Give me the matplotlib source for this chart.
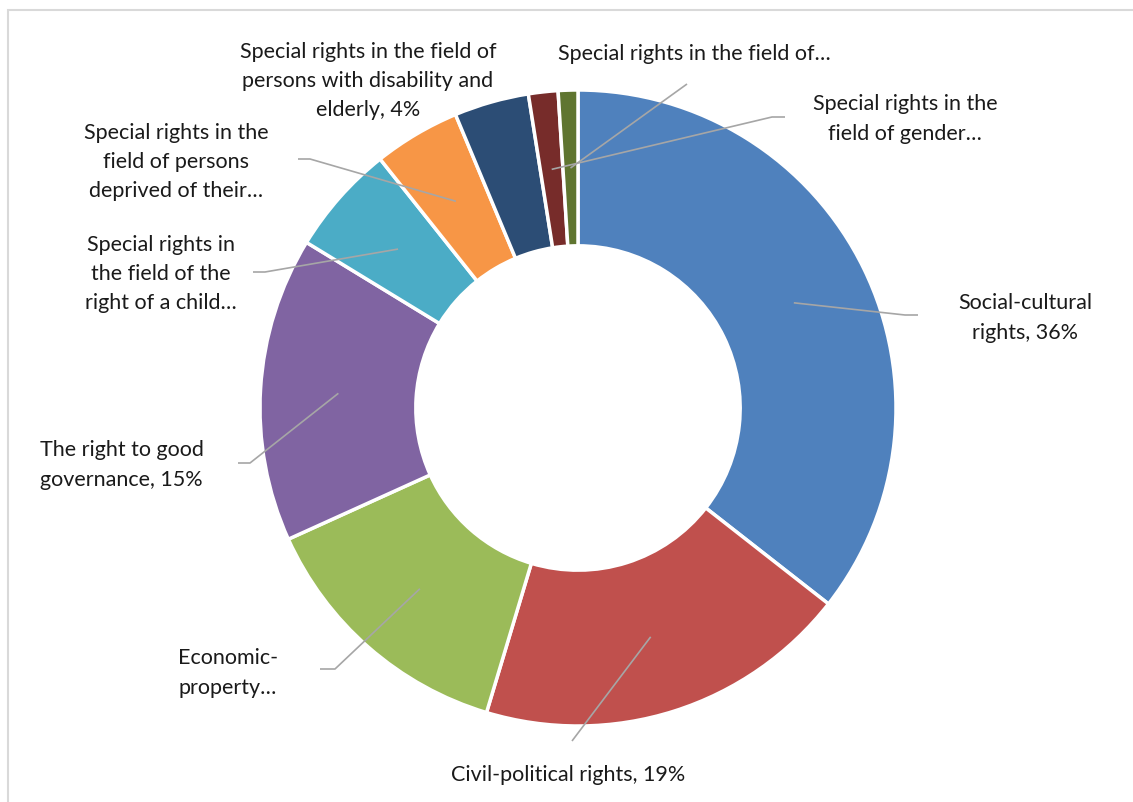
import matplotlib
matplotlib.use("Agg")
import matplotlib.pyplot as plt
import numpy as np
from matplotlib.patches import Rectangle

# ---- data ----
categories = [
    "Social-cultural rights",
    "Civil-political rights",
    "Economic-property rights",
    "The right to good governance",
    "Special rights in the field of the right of a child",
    "Special rights in the field of persons deprived of their liberty",
    "Special rights in the field of persons with disability and elderly",
    "Special rights in the field of gender equality",
    "Special rights in the field of national minorities",
]
values = [35.6, 19.1, 13.6, 15.5, 5.6, 4.4, 3.8, 1.5, 1.0]
label_texts = [
    "Social-cultural\nrights, 36%",
    "Civil-political rights, 19%",
    "Economic-\nproperty\u2026",
    "The right to good\ngovernance, 15%",
    "Special rights in\nthe field of the\nright of a child\u2026",
    "Special rights in the\nfield of persons\ndeprived of their\u2026",
    "Special rights in the field of\npersons with disability and\nelderly, 4%",
    "Special rights in the\nfield of gender\u2026",
    "Special rights in the field of\u2026",
]
colors = ["#4F81BD", "#C0504D", "#9BBB59", "#8064A2", "#4BACC6",
          "#F79646", "#2C4D75", "#772C2A", "#5F7530"]

# ---- layout (pixel positions) ----
W, H = 1133, 803
CX, CY, R = 578, 409, 318

def px(x, y):
    return ((x - CX) / R, (CY - y) / R)

label_pos = [(1025, 318), (568, 775), (229, 673), (123, 465), (161, 274),
             (176, 162), (368, 81), (905, 119), (694, 54)]
label_ha = ["center", "center", "left", "left", "center", "center",
            "center", "center", "center"]
label_left = {2: 178, 3: 40}
leaders = [((905, 316), (918, 316)),
           ((572, 742), (572, 742)),
           ((335, 670), (320, 670)),
           ((250, 464), (238, 464)),
           ((265, 273), (253, 273)),
           ((310, 160), (298, 160)),
           None,
           ((772, 118), (785, 118)),
           ((687, 85), (687, 85))]

fig = plt.figure(figsize=(W / 100, H / 100), dpi=100)
fig.patch.set_facecolor("white")
ax = fig.add_axes([0, 0, 1, 1])

wedges, _ = ax.pie(values, colors=colors, startangle=90, counterclock=False,
                   radius=1.0, wedgeprops=dict(width=0.49, edgecolor="white",
                                               linewidth=2.5))
ax.set_aspect("auto")
ax.set_xlim(-CX / R, (W - CX) / R)
ax.set_ylim(-(H - CY) / R, CY / R)
ax.axis("off")

font = ["Lato", "DejaVu Sans"]
for i, w in enumerate(wedges):
    mid = np.deg2rad((w.theta1 + w.theta2) / 2)
    rmid = 1.0 - 0.49 / 2
    sx, sy = rmid * np.cos(mid), rmid * np.sin(mid)
    if leaders[i] is not None:
        (ex, ey), (fx, fy) = leaders[i]
        p1 = px(ex, ey)
        p2 = px(fx, fy)
        ax.plot([sx, p1[0], p2[0]], [sy, p1[1], p2[1]], color="#A6A6A6",
                lw=1.2, solid_capstyle="butt", zorder=5)
    lx, ly = label_pos[i]
    if label_ha[i] == "left":
        lx = label_left[i]
    x, y = px(lx, ly)
    ax.text(x, y, label_texts[i], ha=label_ha[i], va="center",
            multialignment="center" if label_ha[i] == "center" else "left",
            fontsize=15.5, family=font, color="#1a1a1a", linespacing=1.58)

fig.patches.append(Rectangle((8 / W, -0.05), 1.2, 1 - 11 / H + 0.05,
                             transform=fig.transFigure, fill=False,
                             edgecolor="#D9D9D9", lw=1.5))

fig.savefig("out.png", dpi=100, facecolor="white")
